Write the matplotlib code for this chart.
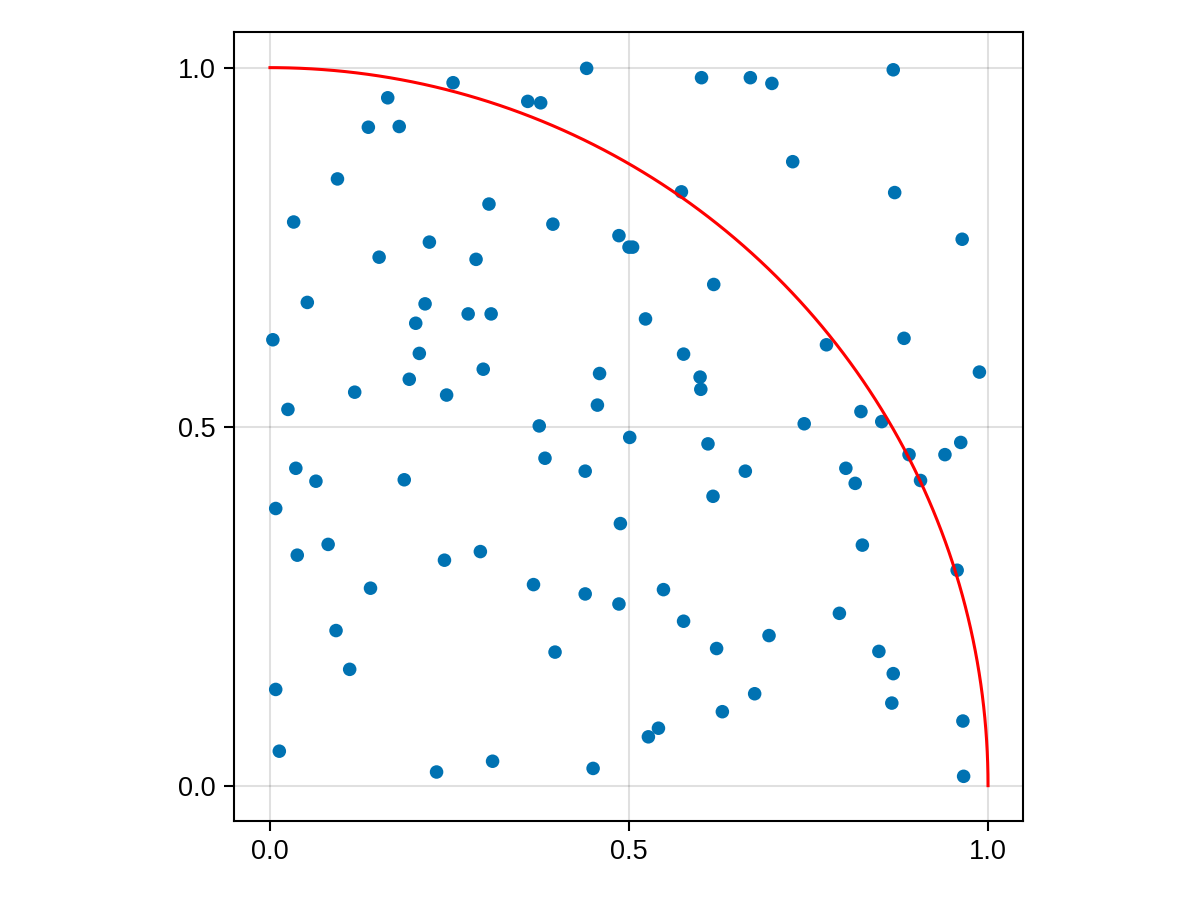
import numpy as np
import matplotlib.pyplot as plt

plt.rcParams['font.family'] = ['Liberation Sans', 'DejaVu Sans']

# random points in the unit square
xs = [0.255, 0.164, 0.137, 0.180, 0.094, 0.305, 0.033, 0.222, 0.152, 0.287,
      0.441, 0.601, 0.669, 0.359, 0.377, 0.573, 0.394, 0.486, 0.500, 0.505, 0.618,
      0.699, 0.868, 0.728, 0.870, 0.964,
      0.052, 0.216, 0.276, 0.308, 0.203, 0.004, 0.208, 0.297, 0.194, 0.118,
      0.246, 0.025, 0.036, 0.064, 0.187, 0.008, 0.081, 0.038, 0.243, 0.293,
      0.523, 0.576, 0.599, 0.600, 0.459, 0.456, 0.375, 0.501, 0.610, 0.383,
      0.439, 0.662, 0.617, 0.488,
      0.775, 0.883, 0.988, 0.823, 0.852, 0.744, 0.962, 0.890, 0.940, 0.802,
      0.815, 0.906, 0.825,
      0.140, 0.092, 0.111, 0.008, 0.013, 0.232, 0.310,
      0.367, 0.439, 0.486, 0.548, 0.576, 0.622, 0.397, 0.675, 0.630, 0.541,
      0.527, 0.450,
      0.957, 0.793, 0.695, 0.848, 0.868, 0.866, 0.965, 0.966]
ys = [0.979, 0.958, 0.917, 0.918, 0.845, 0.810, 0.785, 0.757, 0.736, 0.733,
      0.999, 0.986, 0.986, 0.953, 0.951, 0.827, 0.782, 0.766, 0.750, 0.750, 0.698,
      0.978, 0.997, 0.869, 0.826, 0.761,
      0.673, 0.671, 0.657, 0.657, 0.644, 0.621, 0.602, 0.580, 0.566, 0.548,
      0.544, 0.524, 0.442, 0.424, 0.426, 0.386, 0.336, 0.321, 0.314, 0.326,
      0.650, 0.601, 0.569, 0.552, 0.574, 0.530, 0.501, 0.485, 0.476, 0.456,
      0.438, 0.438, 0.403, 0.365,
      0.614, 0.623, 0.576, 0.521, 0.507, 0.504, 0.478, 0.461, 0.461, 0.442,
      0.421, 0.425, 0.335,
      0.275, 0.216, 0.162, 0.134, 0.048, 0.019, 0.034,
      0.280, 0.267, 0.253, 0.273, 0.229, 0.191, 0.186, 0.128, 0.103, 0.080,
      0.068, 0.024,
      0.300, 0.240, 0.209, 0.187, 0.156, 0.115, 0.090, 0.013]
ticks = [0.0, 0.5, 1.0]

fig = plt.figure(figsize=(12, 9), dpi=100)
ax = fig.add_axes([0.195, 0.0878, 0.6575, 0.8767])

ax.scatter(xs, ys, s=95, color='#0072b2', edgecolors='none', zorder=3)

theta = np.linspace(0, np.pi / 2, 300)
ax.plot(np.cos(theta), np.sin(theta), color='red', lw=2.2, zorder=4)

ax.set_xlim(-0.0501, 1.0487)
ax.set_ylim(-0.0492, 1.0497)
ax.set_xticks(ticks)
ax.set_yticks(ticks)
ax.set_xticklabels(['0.0', '0.5', '1.0'])
ax.set_yticklabels(['0.0', '0.5', '1.0'])
ax.grid(True, color='black', alpha=0.12, lw=1.5)
ax.set_axisbelow(True)
for s in ax.spines.values():
    s.set_linewidth(1.5)
ax.tick_params(length=7, width=1.5, labelsize=19.5, pad=6)

fig.savefig('out.png')
